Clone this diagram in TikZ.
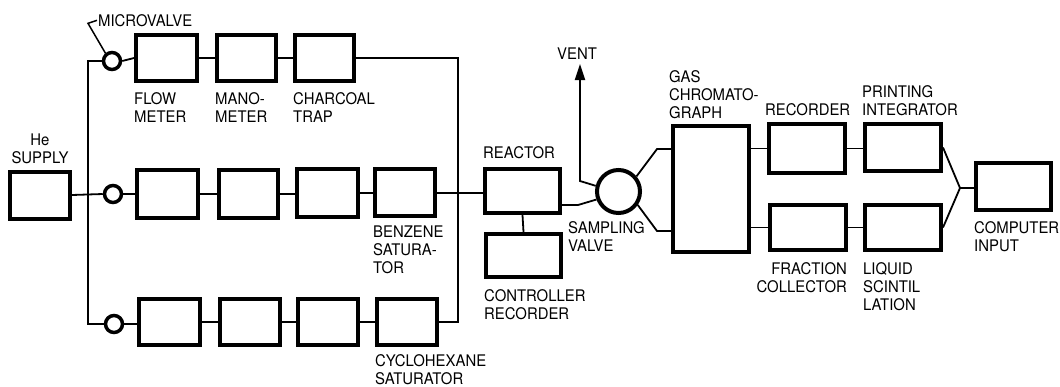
\documentclass[tikz,border=0pt]{standalone}
\usepackage{fontspec}
\setmainfont[FakeStretch=0.93]{TeX Gyre Heros}
\usetikzlibrary{arrows.meta,calc}
\tikzset{
  box/.style={draw, line width=4pt, rectangle, inner sep=0pt, minimum width=60pt, minimum height=46pt},
  valve/.style={draw, line width=3.5pt, circle, inner sep=0pt, minimum size=17pt},
  conn/.style={line width=1.8pt},
  lab/.style={inner sep=0pt, align=left, anchor=north west, font=\fontsize{16}{18}\selectfont},
}
\begin{document}
\begin{tikzpicture}[x=1pt,y=-1pt]
\useasboundingbox (0,0) rectangle (1060,386);
% boxes
\node[box, minimum width=60pt, minimum height=47pt] (he) at (40,195) {};
\node[box, minimum width=61pt] (t1) at (166.5,58) {};
\node[box, minimum width=59pt] (t2) at (246.5,58) {};
\node[box, minimum width=59pt] (t3) at (324.5,58) {};
\node[box, minimum width=61pt, minimum height=48pt] (m1) at (167.5,194) {};
\node[box, minimum width=59pt, minimum height=48pt] (m2) at (248,194) {};
\node[box, minimum width=61pt, minimum height=48pt] (m3) at (327.5,193) {};
\node[box, minimum width=60pt, minimum height=47pt] (m4) at (405,192) {};
\node[box, minimum width=61pt] (b1) at (169.5,322) {};
\node[box, minimum width=60pt] (b2) at (250,322) {};
\node[box, minimum width=60pt] (b3) at (328,322) {};
\node[box, minimum width=60pt] (b4) at (407,322) {};
\node[box, minimum width=75pt, minimum height=44pt] (reactor) at (522.5,191) {};
\node[box, minimum width=75pt, minimum height=43pt] (ctrl) at (523.5,255.5) {};
\node[box, minimum width=76pt, minimum height=126pt] (gc) at (711,189) {};
\node[box, minimum width=76pt, minimum height=49pt] (rec) at (807,148.5) {};
\node[box, minimum width=76pt, minimum height=47pt] (pi) at (903,147.5) {};
\node[box, minimum width=76pt, minimum height=45pt] (fc) at (808,227.5) {};
\node[box, minimum width=76pt, minimum height=45pt] (ls) at (903,227.5) {};
\node[box, minimum width=75pt, minimum height=47pt] (ci) at (1013.5,186.5) {};
% valves
\node[valve] (v1) at (112,61) {};
\node[valve] (v2) at (113,194) {};
\node[valve] (v3) at (114,324) {};
\node[draw, circle, line width=4pt, inner sep=0pt, minimum size=43pt] (sv) at (618.5,191.5) {};
% coordinates
\coordinate (bus) at (88,194);
\coordinate (join) at (458,193);
\coordinate (vbend) at (580,181);
\coordinate (vent) at (580,64);
\coordinate (gu) at (657,149);
\coordinate (gl) at (657,231);
\coordinate (cj) at (960,188);
% labels
\node[lab, anchor=north, align=center] (lhe) at (40,134) {He\\SUPPLY};
\node[lab] (mv) at (98,14) {MICROVALVE};
\node[lab] (lt1) at (134,92) {FLOW\\METER};
\node[lab] (lt2) at (215,92) {MANO-\\METER};
\node[lab] (lt3) at (293,92) {CHARCOAL\\TRAP};
\node[lab] (lm4) at (373,226) {BENZENE\\SATURA-\\TOR};
\node[lab] (lb4) at (375,354) {CYCLOHEXANE\\SATURATOR};
\node[lab] (lre) at (483,146) {REACTOR};
\node[lab] (lct) at (484,289) {CONTROLLER\\RECORDER};
\node[lab] (lsv) at (568,221) {SAMPLING\\VALVE};
\node[lab] (lvent) at (557,48) {VENT};
\node[lab] (lgc) at (669,70) {GAS\\CHROMATO-\\GRAPH};
\node[lab] (lrec) at (765,103) {RECORDER};
\node[lab] (lpi) at (862,85) {PRINTING\\INTEGRATOR};
\node[lab, anchor=north east, align=right] (lfc) at (847,262) {FRACTION\\COLLECTOR};
\node[lab] (lls) at (863,262) {LIQUID\\SCINTIL\\LATION};
\node[lab] (lci) at (974,221) {COMPUTER\\INPUT};
% connectors
\draw[conn] (he.east) -- (v2.west);
\draw[conn] (v1.west) -| (bus) |- (v3.west);
\draw[conn] (v1.east) -- (t1.west);
\draw[conn] (t1.east) -- (t2.west);
\draw[conn] (t2.east) -- (t3.west);
\draw[conn] (v2.east) -- (m1.west);
\draw[conn] (m1.east) -- (m2.west);
\draw[conn] (m2.east) -- (m2.east -| m3.west);
\draw[conn] (m3.east) -- (m3.east -| m4.west);
\draw[conn] (v3.east) -- (v3.east -| b1.west);
\draw[conn] (b1.east) -- (b2.west);
\draw[conn] (b2.east) -- (b3.west);
\draw[conn] (b3.east) -- (b4.west);
\draw[conn] (t3.east) -| (join) |- (b4.east);
\draw[conn] (m4.east |- join) -- (join -| reactor.west);
\draw[conn] (reactor.south) -- (ctrl.north);
\draw[conn] (reactor.east) ++(0,14) -- ++(16,0) -- (sv.200);
\draw[conn, -{Triangle[length=16pt,width=10pt]}] (sv.166) -- (vbend) -- (vent);
\draw[conn] (sv.40) -- (gu) -- (gu -| gc.west);
\draw[conn] (sv.-35) -- (gl) -- (gl -| gc.west);
\draw[conn] (rec.west) -- (rec.west -| gc.east);
\draw[conn] (fc.west) -- (fc.west -| gc.east);
\draw[conn] (rec.east) -- (rec.east -| pi.west);
\draw[conn] (fc.east) -- (fc.east -| ls.west);
\draw[conn] (pi.east) -- (cj) -- (cj -| ci.west);
\draw[conn] (ls.east) -- (cj);
\draw[conn, line width=1.5pt] ([xshift=-1pt]mv.west) -- ++(-9,3) -- (v1.130);
\end{tikzpicture}
\end{document}
